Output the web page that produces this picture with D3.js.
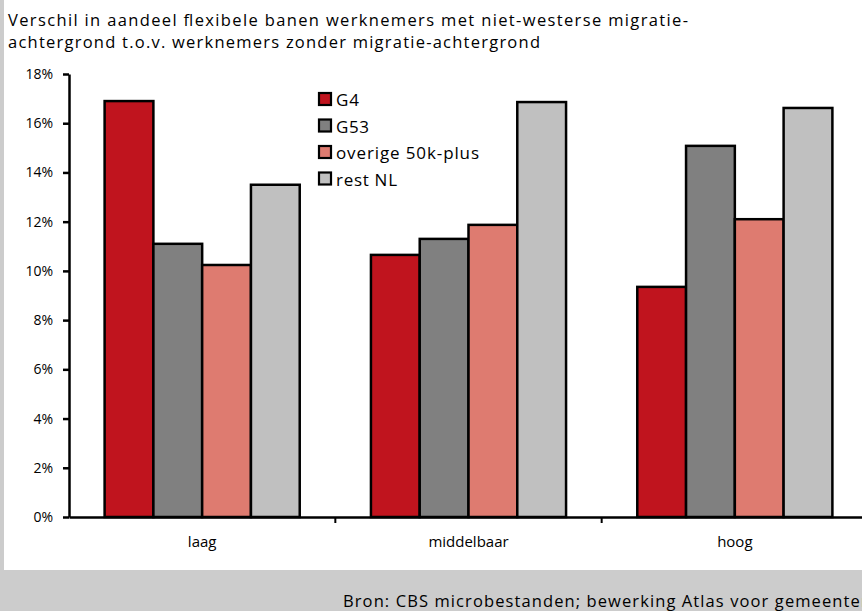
<!DOCTYPE html>
<html><head><meta charset="utf-8">
<script src="https://cdn.jsdelivr.net/npm/d3@7"></script>
<style>body{margin:0;background:#cccccc;} svg{display:block;}</style>
</head><body>
<svg id="c" width="862" height="611"></svg>
<script>
const categories = ["laag", "middelbaar", "hoog"];
const seriesNames = ["G4", "G53", "overige 50k-plus", "rest NL"];
const g4 = [16.9, 10.65, 9.35];
const g53 = [11.1, 11.3, 15.08];
const overige = [10.24, 11.87, 12.1];
const restNL = [13.5, 16.86, 16.62];
const yTicks = [0, 2, 4, 6, 8, 10, 12, 14, 16, 18];
const colors = ["#c0141e", "#808080", "#de7b70", "#c0c0c0"];
const titleLines = ["Verschil in aandeel flexibele banen werknemers met niet-westerse migratie-",
  "achtergrond t.o.v. werknemers zonder migratie-achtergrond"];
const source = "Bron: CBS microbestanden; bewerking Atlas voor gemeenten";

const values = [g4, g53, overige, restNL];
const svg = d3.select("#c");
const font = "'Open Sans', 'Noto Sans', sans-serif";

svg.append("rect").attr("x", 0).attr("y", 0).attr("width", 862).attr("height", 611).attr("fill", "#cccccc");
svg.append("rect").attr("x", 4).attr("y", 0).attr("width", 858).attr("height", 570).attr("fill", "#ffffff");

const titleWidths = [680, 532];
svg.selectAll("text.title").data(titleLines).enter().append("text")
  .attr("class", "title")
  .attr("x", 8).attr("y", (d, i) => 26 + i * 22)
  .attr("font-family", font).attr("font-size", 16.5).attr("fill", "#000")
  .attr("textLength", (d, i) => titleWidths[i]).attr("lengthAdjust", "spacing")
  .text(d => d);

const x0 = d3.scaleBand().domain(categories).range([69, 868]).paddingInner(0).paddingOuter(0);
const x1 = d3.scaleBand().domain(seriesNames).range([0, x0.bandwidth()]).paddingOuter(0.73).paddingInner(0);
const y = d3.scaleLinear().domain([0, 18]).range([517, 74]);

const groups = svg.selectAll("g.cat").data(categories).enter().append("g")
  .attr("transform", d => `translate(${x0(d)},0)`);
groups.selectAll("rect").data((d, ci) => seriesNames.map((s, si) => ({s, si, v: values[si][ci]})))
  .enter().append("rect")
  .attr("x", d => x1(d.s)).attr("width", x1.bandwidth())
  .attr("y", d => y(d.v)).attr("height", d => y(0) - y(d.v))
  .attr("fill", d => colors[d.si]).attr("stroke", "#000").attr("stroke-width", 2.5);

// y axis
const yAxis = svg.append("g").attr("transform", "translate(69,0)")
  .call(d3.axisLeft(y).tickValues(yTicks).tickFormat(d => d + "%").tickSize(6).tickSizeOuter(0));
yAxis.select(".domain").attr("stroke", "#000").attr("stroke-width", 2.5);
yAxis.selectAll(".tick line").attr("stroke", "#000").attr("stroke-width", 2.5);
yAxis.selectAll(".tick text").attr("font-family", font).attr("font-size", 14).attr("fill", "#000").attr("x", -16);

// x axis
const xAxis = svg.append("g").attr("transform", "translate(0,517)")
  .call(d3.axisBottom(x0).tickSize(0).tickSizeOuter(0));
xAxis.select(".domain").attr("stroke", "#000").attr("stroke-width", 2.5);
xAxis.selectAll(".tick text").attr("font-family", font).attr("font-size", 15).attr("fill", "#000").attr("dy", 0).attr("y", 30);
// separator ticks between categories
svg.selectAll("line.sep").data(categories.slice(1)).enter().append("line")
  .attr("x1", d => x0(d)).attr("x2", d => x0(d)).attr("y1", 517).attr("y2", 523)
  .attr("stroke", "#000").attr("stroke-width", 2);

// legend
const legWidths = [23, 33, 143, 61];
const leg = svg.selectAll("g.leg").data(seriesNames).enter().append("g")
  .attr("transform", (d, i) => `translate(318,${92 + i * 26.5})`);
leg.append("rect").attr("x", 1).attr("y", 1).attr("width", 12).attr("height", 12)
  .attr("fill", (d, i) => colors[i]).attr("stroke", "#000").attr("stroke-width", 2.2);
leg.append("text").attr("x", 18).attr("y", 14)
  .attr("font-family", font).attr("font-size", 17).attr("fill", "#000")
  .attr("textLength", (d, i) => legWidths[i]).attr("lengthAdjust", "spacing")
  .text(d => d);

svg.append("text").attr("x", 343).attr("y", 607)
  .attr("font-family", font).attr("font-size", 16.5).attr("fill", "#000")
  .attr("textLength", 528).attr("lengthAdjust", "spacing")
  .text(source);
</script>
</body></html>
